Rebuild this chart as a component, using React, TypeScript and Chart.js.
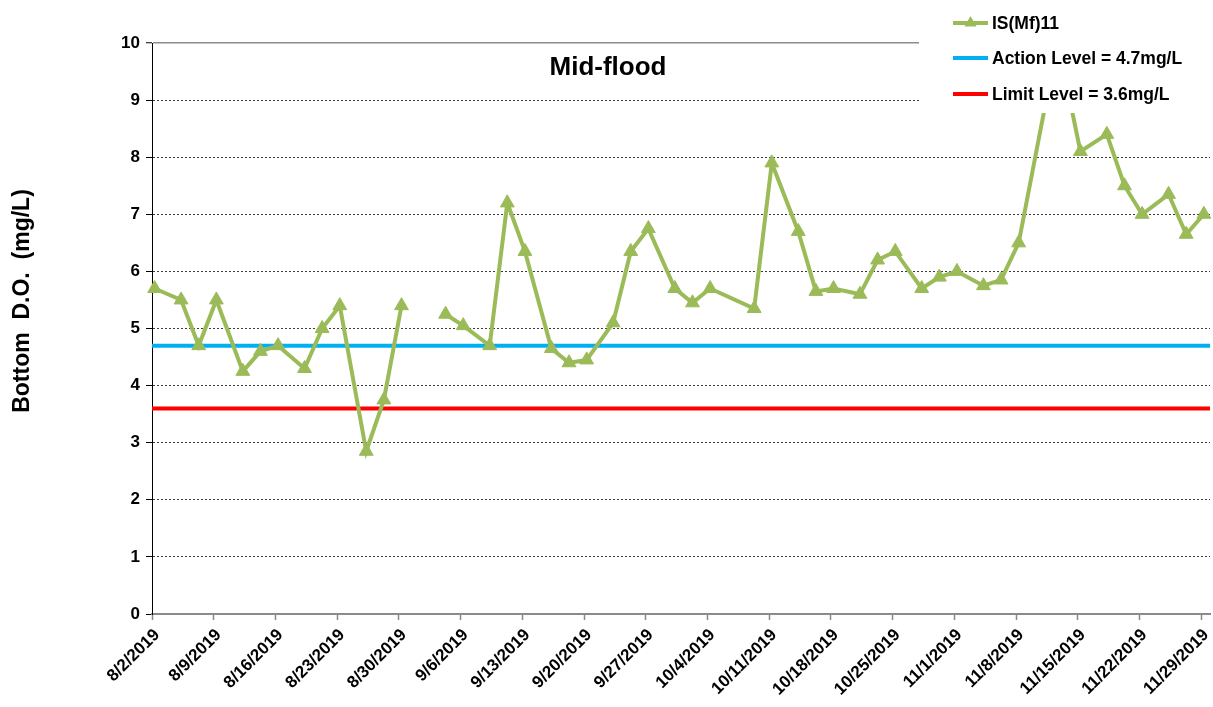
import React, { useEffect, useRef } from "react";
import { Chart, registerables } from "chart.js";

Chart.register(...registerables);

// ---------------- data ----------------
const SERIES_LABEL = "IS(Mf)11";
const ACTION_LABEL = "Action Level = 4.7mg/L";
const LIMIT_LABEL = "Limit Level = 3.6mg/L";
const CHART_TITLE = "Mid-flood";
const Y_TITLE = "Bottom  D.O.  (mg/L)";

const SAMPLE_DATES = [
  "8/2/2019", "8/5/2019", "8/7/2019", "8/9/2019", "8/12/2019", "8/14/2019", "8/16/2019",
  "8/19/2019", "8/21/2019", "8/23/2019", "8/26/2019", "8/28/2019", "8/30/2019", "9/2/2019",
  "9/4/2019", "9/6/2019", "9/9/2019", "9/11/2019", "9/13/2019", "9/16/2019", "9/18/2019",
  "9/20/2019", "9/23/2019", "9/25/2019", "9/27/2019", "9/30/2019", "10/2/2019", "10/4/2019",
  "10/9/2019", "10/11/2019", "10/14/2019", "10/16/2019", "10/18/2019", "10/21/2019",
  "10/23/2019", "10/25/2019", "10/28/2019", "10/30/2019", "11/1/2019", "11/4/2019",
  "11/6/2019", "11/8/2019", "11/11/2019", "11/13/2019", "11/15/2019", "11/18/2019",
  "11/20/2019", "11/22/2019", "11/25/2019", "11/27/2019", "11/29/2019",
];

const DO_VALUES: (number | null)[] = [
  5.7, 5.5, 4.7, 5.5, 4.25, 4.6, 4.7,
  4.3, 5.0, 5.4, 2.85, 3.75, 5.4, null,
  5.25, 5.05, 4.7, 7.2, 6.35, 4.65, 4.4,
  4.45, 5.1, 6.35, 6.75, 5.7, 5.45, 5.7,
  5.35, 7.9, 6.7, 5.65, 5.7, 5.6,
  6.2, 6.35, 5.7, 5.9, 6.0, 5.75,
  5.85, 6.5, 8.9, 9.6, 8.1, 8.4,
  7.5, 7.0, 7.35, 6.65, 7.0,
];

const ACTION_LEVEL = 4.7;
const LIMIT_LEVEL = 3.6;

const TICK_DATES = [
  "8/2/2019", "8/9/2019", "8/16/2019", "8/23/2019", "8/30/2019", "9/6/2019", "9/13/2019",
  "9/20/2019", "9/27/2019", "10/4/2019", "10/11/2019", "10/18/2019", "10/25/2019",
  "11/1/2019", "11/8/2019", "11/15/2019", "11/22/2019", "11/29/2019",
];
const AXIS_START = "8/2/2019";
const AXIS_END = "11/30/2019";
const Y_TICKS = [0, 1, 2, 3, 4, 5, 6, 7, 8, 9, 10];

// ---------------- helpers ----------------
const DAY_MS = 86400000;
const parseDate = (s: string) => {
  const [m, d, y] = s.split("/").map(Number);
  return Date.UTC(y, m - 1, d);
};
const BASE = parseDate(AXIS_START);
const toDay = (s: string) => Math.round((parseDate(s) - BASE) / DAY_MS);
const fmtDay = (v: number) => {
  const dt = new Date(BASE + v * DAY_MS);
  return `${dt.getUTCMonth() + 1}/${dt.getUTCDate()}/${dt.getUTCFullYear()}`;
};
const AXIS_DAYS = toDay(AXIS_END);
const POINT_SHIFT = 0.3; // points sit slightly inside each day's band

const FONT = '"Liberation Sans", Arial, Helvetica, sans-serif';
const GREEN = "#9BBB59";
const BLUE = "#00B0F0";
const RED = "#FF0000";

const overlayPlugin = {
  id: "overlay",
  afterDatasetsDraw(chart: any) {
    const { ctx } = chart;
    ctx.save();
    // legend box (covers the plot like the original)
    const lx = 919;
    ctx.fillStyle = "#ffffff";
    ctx.fillRect(lx, 0, chart.width - lx, 113);
    const rows = [
      { label: SERIES_LABEL, color: GREEN, marker: true, y: 23 },
      { label: ACTION_LABEL, color: BLUE, marker: false, y: 58 },
      { label: LIMIT_LABEL, color: RED, marker: false, y: 94 },
    ];
    rows.forEach((r) => {
      ctx.strokeStyle = r.color;
      ctx.lineWidth = 4;
      ctx.lineCap = "butt";
      ctx.beginPath();
      ctx.moveTo(953, r.y);
      ctx.lineTo(988, r.y);
      ctx.stroke();
      if (r.marker) {
        ctx.fillStyle = r.color;
        const cx = 970.5;
        const rad = 7;
        ctx.beginPath();
        ctx.moveTo(cx, r.y - rad);
        ctx.lineTo(cx + rad * 0.866, r.y + rad * 0.5);
        ctx.lineTo(cx - rad * 0.866, r.y + rad * 0.5);
        ctx.closePath();
        ctx.fill();
      }
      ctx.fillStyle = "#000";
      ctx.font = `bold 17.5px ${FONT}`;
      ctx.textAlign = "left";
      ctx.textBaseline = "middle";
      ctx.fillText(r.label, 992, r.y + 1);
    });
    // chart title inside plot
    ctx.font = `bold 26px ${FONT}`;
    ctx.textAlign = "center";
    ctx.textBaseline = "middle";
    ctx.fillStyle = "#000";
    ctx.fillText(CHART_TITLE, 608, 68);
    // y-axis title
    ctx.translate(23, 301);
    ctx.rotate(-Math.PI / 2);
    ctx.font = `bold 23px ${FONT}`;
    ctx.fillText(Y_TITLE, 0, 0);
    ctx.restore();
  },
};

export default function App() {
  const canvasRef = useRef<HTMLCanvasElement | null>(null);

  useEffect(() => {
    const canvas = canvasRef.current;
    if (!canvas) return;

    const seriesData = SAMPLE_DATES.map((d, i) => ({ x: toDay(d), y: DO_VALUES[i] }));
    const actionData = [
      { x: 0, y: ACTION_LEVEL },
      { x: AXIS_DAYS, y: ACTION_LEVEL },
    ];
    const limitData = [
      { x: 0, y: LIMIT_LEVEL },
      { x: AXIS_DAYS, y: LIMIT_LEVEL },
    ];

    const chart = new Chart(canvas, {
      type: "line",
      data: {
        datasets: [
          {
            label: SERIES_LABEL,
            data: seriesData as any,
            xAxisID: "xd",
            borderColor: GREEN,
            backgroundColor: GREEN,
            borderWidth: 4,
            pointStyle: "triangle",
            pointRadius: 8,
            pointBorderWidth: 1,
            pointBackgroundColor: GREEN,
            pointBorderColor: GREEN,
            spanGaps: false,
            tension: 0,
            clip: false as any,
          },
          {
            label: ACTION_LABEL,
            data: actionData,
            xAxisID: "x",
            borderColor: BLUE,
            borderWidth: 4,
            pointRadius: 0,
          },
          {
            label: LIMIT_LABEL,
            data: limitData,
            xAxisID: "x",
            borderColor: RED,
            borderWidth: 4,
            pointRadius: 0,
          },
        ],
      },
      options: {
        responsive: false,
        animation: false,
        devicePixelRatio: 1,
        layout: { autoPadding: false, padding: { top: 43, right: 3, left: 0, bottom: 0 } },
        plugins: {
          legend: { display: false },
          title: { display: false },
          tooltip: { enabled: false },
        },
        scales: {
          x: {
            type: "linear",
            min: 0,
            max: AXIS_DAYS,
            afterBuildTicks: (s: any) => {
              s.ticks = TICK_DATES.map((d) => ({ value: toDay(d) }));
            },
            afterFit: (s: any) => {
              s.height = 93;
              s.paddingLeft = 0;
              s.paddingRight = 0;
            },
            grid: {
              drawOnChartArea: false,
              drawTicks: true,
              tickLength: 6,
              tickColor: "#888",
              tickWidth: 1.5,
            },
            border: { display: true, color: "#8a8a8a", width: 2 },
            ticks: {
              autoSkip: false,
              minRotation: 45,
              maxRotation: 45,
              padding: 5,
              labelOffset: 5,
              color: "#000",
              font: { family: FONT, size: 17, weight: "bold" },
              callback: (v: any) => fmtDay(Number(v)),
            },
          },
          xd: {
            type: "linear",
            display: false,
            min: -POINT_SHIFT,
            max: AXIS_DAYS - POINT_SHIFT,
          },
          y: {
            min: 0,
            max: 10,
            afterBuildTicks: (s: any) => {
              s.ticks = Y_TICKS.map((v) => ({ value: v }));
            },
            afterFit: (s: any) => {
              s.width = 152;
            },
            grid: {
              color: (c: any) => (c.tick && c.tick.value === 10 ? "#8c8c8c" : "#3a3a3a"),
              lineWidth: (c: any) => (c.tick && c.tick.value === 10 ? 1.5 : 1),
              drawTicks: true,
              tickLength: 6,
              tickColor: "#000",
              tickWidth: 1,
              tickBorderDash: [],
            },
            border: {
              display: true,
              color: "#000",
              width: 1,
              dash: (c: any) => (c.tick && c.tick.value === 10 ? [] : [2, 2]),
            } as any,
            ticks: {
              padding: 6,
              color: "#000",
              font: { family: FONT, size: 17, weight: "bold" },
            },
          },
        },
      } as any,
      plugins: [overlayPlugin],
    });

    return () => chart.destroy();
  }, []);

  return (
    <div
      style={{
        position: "fixed",
        left: 0,
        top: 0,
        width: 1213,
        height: 707,
        background: "#ffffff",
      }}
    >
      <canvas ref={canvasRef} width={1213} height={707} style={{ display: "block" }} />
    </div>
  );
}
